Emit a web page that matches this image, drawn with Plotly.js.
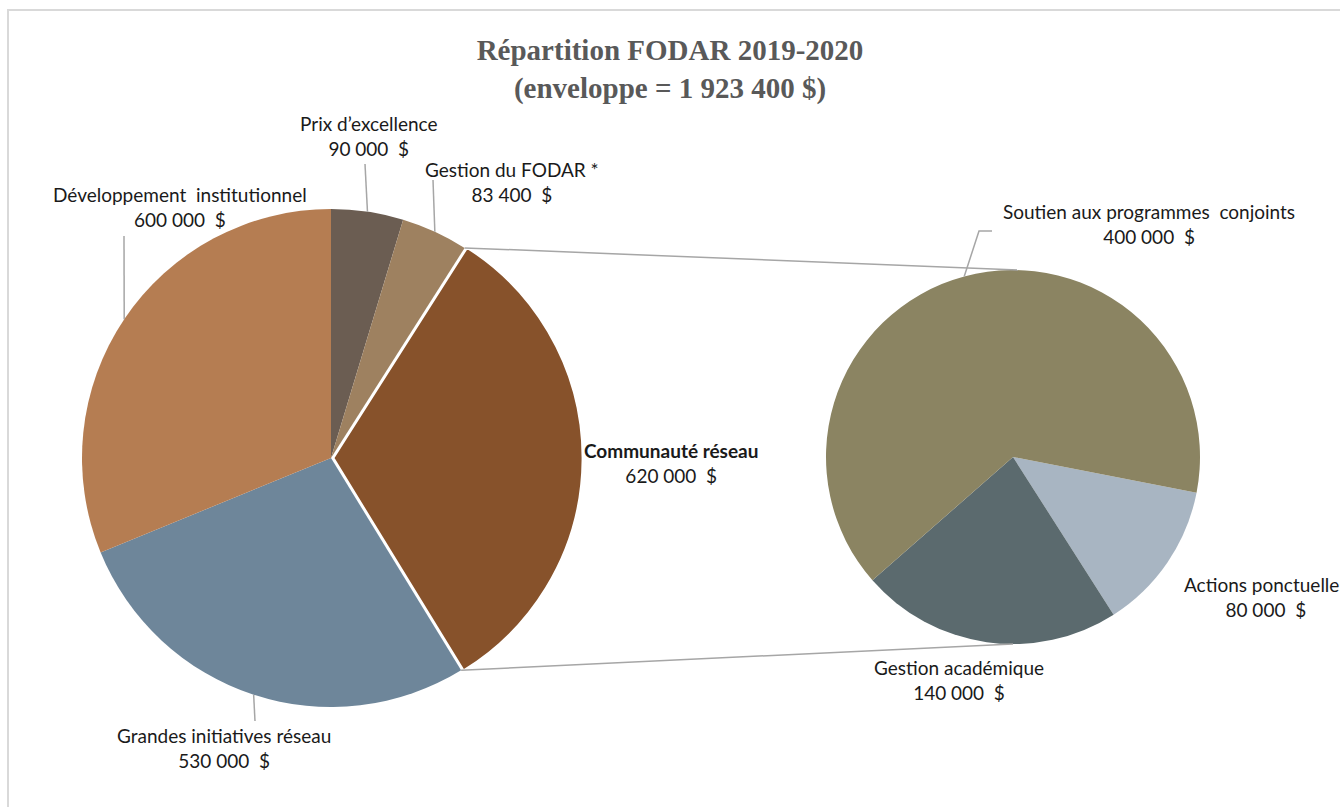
<!DOCTYPE html>
<html>
<head>
<meta charset="utf-8">
<script src="https://cdn.plot.ly/plotly-3.0.1.min.js"></script>
<style>html,body{margin:0;padding:0;background:#fff;}#chart{width:1340px;height:807px;}</style>
</head>
<body>
<div id="chart"></div>
<script>
// ---- Data ----
var mainLabels = ["Prix d’excellence", "Gestion du FODAR *", "Communauté réseau", "Grandes initiatives réseau", "Développement  institutionnel"];
var mainValues = [90000, 83400, 620000, 530000, 600000];
var mainColors = ["#6b5d52", "#9e8160", "#87522b", "#6e869a", "#b57d52"];

var subLabels = ["Actions ponctuelles", "Gestion académique", "Soutien aux programmes  conjoints"];
var subValues = [80000, 140000, 400000];
var subColors = ["#a8b5c2", "#5b6a6e", "#8b8462"];

var titleLines = ["Répartition FODAR 2019-2020", "(enveloppe = 1 923 400 $)"];

// ---- Geometry (layout) ----
var W = 1340, H = 807;
function px(x){ return x / W; }
function py(y){ return 1 - y / H; }
var L = {cx: 331, cy: 458, r: 249, pull: 0.01};
var R = {cx: 1013, cy: 457, r: 187, rot: 101};

function fmt(v){
  var s = String(v), out = "";
  while (s.length > 3){ out = " " + s.slice(-3) + out; s = s.slice(0, -3); }
  return s + out + "\u00a0 $";
}

var totalMain = mainValues.reduce(function(a,b){return a+b;}, 0);
var totalSub = subValues.reduce(function(a,b){return a+b;}, 0);

function edgePoint(P, angDeg, rr){
  var a = angDeg * Math.PI / 180;
  return [P.cx + rr * Math.sin(a), P.cy - rr * Math.cos(a)];
}
// angles of each slice (clockwise from 12 o'clock)
function sliceAngles(values, total, rot){
  var res = [], cum = rot;
  values.forEach(function(v){
    var a0 = cum, a1 = cum + v / total * 360;
    res.push({a0: a0, a1: a1, mid: (a0 + a1) / 2});
    cum = a1;
  });
  return res;
}
var mainAng = sliceAngles(mainValues, totalMain, 0);
var subAng = sliceAngles(subValues, totalSub, R.rot);

var hL = L.r * (1 + L.pull);
var traces = [
  {
    type: "pie", values: mainValues, labels: mainLabels, sort: false, direction: "clockwise", rotation: 0,
    marker: {colors: mainColors, line: {color: "#ffffff", width: [0, 0, 1.8, 0, 0]}},
    pull: [0, 0, L.pull, 0, 0], textinfo: "none", showlegend: false,
    domain: {x: [px(L.cx - hL), px(L.cx + hL)], y: [py(L.cy + hL), py(L.cy - hL)]}
  },
  {
    type: "pie", values: subValues, labels: subLabels, sort: false, direction: "clockwise", rotation: R.rot,
    marker: {colors: subColors, line: {width: 0}}, textinfo: "none", showlegend: false,
    domain: {x: [px(R.cx - R.r), px(R.cx + R.r)], y: [py(R.cy + R.r), py(R.cy - R.r)]}
  }
];

var lineStyle = {color: "#a6a6a6", width: 1.5};
var shapes = [];
// frame
shapes.push({type: "rect", xref: "paper", yref: "paper", x0: px(8), x1: px(1360), y0: py(10), y1: py(830), line: {color: "#d9d9d9", width: 2}});
// connector lines from the exploded slice to the secondary pie
var cStart = edgePoint(L, mainAng[2].a0, L.r), cEnd = edgePoint(L, mainAng[2].a1, L.r);
var rTop = [R.cx + 5, R.cy - R.r], rBot = [R.cx, R.cy + R.r];
shapes.push({type: "line", xref: "paper", yref: "paper", x0: px(cStart[0]), y0: py(cStart[1]), x1: px(rTop[0]), y1: py(rTop[1]), line: lineStyle});
shapes.push({type: "line", xref: "paper", yref: "paper", x0: px(cEnd[0]), y0: py(cEnd[1]), x1: px(rBot[0]), y1: py(rBot[1]), line: lineStyle});

// leader lines: label side point -> slice mid-angle edge point
var leaders = [
  {P: L, ang: mainAng[0].mid, from: [[365, 164]]},
  {P: L, ang: mainAng[1].mid, from: [[433, 180]]},
  {P: L, ang: mainAng[3].mid, from: [[255, 721]]},
  {P: L, ang: mainAng[4].mid, from: [[124, 236]]},
  {P: R, ang: subAng[2].mid, from: [[992, 231], [979, 231]]}
];
leaders.forEach(function(ld){
  var e = edgePoint(ld.P, ld.ang, ld.P.r);
  var pts = ld.from.concat([e]);
  var d = "M" + pts.map(function(p){ return px(p[0]) + "," + py(p[1]); }).join(" L");
  shapes.push({type: "path", xref: "paper", yref: "paper", path: d, line: lineStyle});
});

// labels
var labelFont = {family: "Lato, 'Liberation Sans', sans-serif", size: 19, color: "#1a1a1a"};
var labelPos = [
  {t: mainLabels[0] + "<br>" + fmt(mainValues[0]), x: 369, y: 136},
  {t: mainLabels[1] + "<br>" + fmt(mainValues[1]), x: 512, y: 182},
  {t: "<b>" + mainLabels[2] + "</b><br>" + fmt(mainValues[2]), x: 671, y: 463},
  {t: mainLabels[3] + "<br>" + fmt(mainValues[3]), x: 224, y: 748},
  {t: mainLabels[4] + "<br>" + fmt(mainValues[4]), x: 180, y: 207},
  {t: subLabels[0] + "<br>" + fmt(subValues[0]), x: 1266, y: 597},
  {t: subLabels[1] + "<br>" + fmt(subValues[1]), x: 959, y: 680},
  {t: subLabels[2] + "<br>" + fmt(subValues[2]), x: 1149, y: 224}
];
var annotations = labelPos.map(function(l){
  return {text: l.t, x: px(l.x), y: py(l.y), xref: "paper", yref: "paper", xanchor: "center", yanchor: "middle",
          showarrow: false, align: "center", font: labelFont};
});

var layout = {
  width: W, height: H, margin: {l: 0, r: 0, t: 0, b: 0},
  paper_bgcolor: "#ffffff",
  title: {text: "<b>" + titleLines.join("<br>") + "</b>", x: 0.5, xanchor: "center", y: py(60), yanchor: "middle",
          font: {family: "'Liberation Serif', 'DejaVu Serif', serif", size: 29, color: "#595959"}},
  shapes: shapes, annotations: annotations, showlegend: false
};
Plotly.newPlot("chart", traces, layout, {displayModeBar: false, staticPlot: true});
</script>
</body>
</html>
